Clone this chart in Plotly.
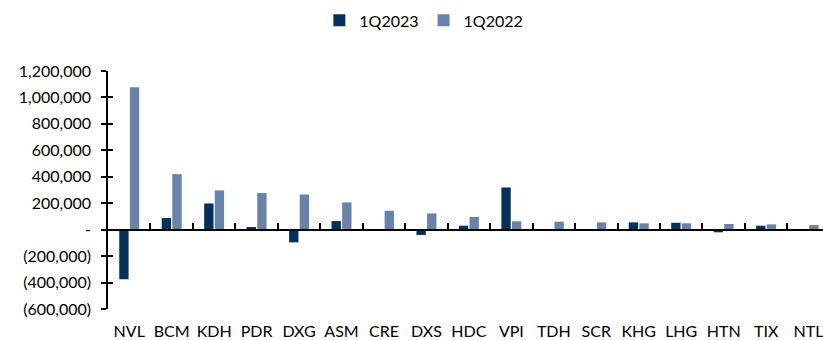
import plotly.graph_objects as go

categories = ["NVL", "BCM", "KDH", "PDR", "DXG", "ASM", "CRE", "DXS", "HDC", "VPI",
              "TDH", "SCR", "KHG", "LHG", "HTN", "TIX", "NTL"]
q1_2023 = [-375000, 88000, 198000, 20000, -96000, 65000, -5000, -40000, 30000, 319000,
           -8000, 0, 55000, 52000, -20000, 30000, 0]
q1_2022 = [1078000, 420000, 297000, 277000, 266000, 206000, 143000, 123000, 96000, 63000,
           60000, 55000, 48000, 48000, 43000, 40000, 35000]

y_tickvals = [1200000, 1000000, 800000, 600000, 400000, 200000, 0, -200000, -400000, -600000]
y_ticktext = ["1,200,000", "1,000,000", "800,000", "600,000", "400,000", "200,000", "-",
              "(200,000)", "(400,000)", "(600,000)"]

DARK = "#04305D"
LIGHT = "#6783A9"
FONT = "Lato"

fig = go.Figure()
fig.add_trace(go.Bar(name="1Q2023", x=categories, y=q1_2023, marker=dict(color=DARK, line=dict(width=0))))
fig.add_trace(go.Bar(name="1Q2022", x=categories, y=q1_2022, marker=dict(color=LIGHT, line=dict(width=0))))
# helper trace so the overlay axes (zero-line axis with boundary ticks, inner y ticks) are drawn
fig.add_trace(go.Scatter(x=categories, y=[None] * len(categories), xaxis="x2", yaxis="y2",
                         showlegend=False, hoverinfo="skip", mode="markers"))

yr = [-600000, 1200000]
xr = [-0.5, 16.34]
zero_pos = (0 - yr[0]) / (yr[1] - yr[0])

fig.update_layout(
    width=823, height=340,
    margin=dict(l=108, r=0, t=71, b=31, autoexpand=False),
    paper_bgcolor="white", plot_bgcolor="white",
    barmode="group", bargap=0.5, bargroupgap=0.12,
    font=dict(family=FONT, size=16, color="#000000"),
    showlegend=True,
    legend=dict(orientation="h", xref="container", yref="container", x=0.515, y=0.94,
                xanchor="center", yanchor="middle", font=dict(size=16, family=FONT),
                itemwidth=30, traceorder="normal", bgcolor="rgba(0,0,0,0)"),
    xaxis=dict(range=xr, categoryorder="array", categoryarray=categories, automargin=False,
               showline=False, showgrid=False, zeroline=False, ticks="", ticklen=0,
               tickfont=dict(size=16, family=FONT), ticklabelstandoff=11, fixedrange=True),
    xaxis2=dict(range=xr, overlaying="x", matches="x", anchor="free", position=zero_pos,
                categoryorder="array", categoryarray=categories, automargin=False,
                showline=True, linecolor="black", linewidth=1.5,
                ticks="inside", tickson="boundaries", ticklen=6, tickwidth=1.5, tickcolor="black",
                showticklabels=False, showgrid=False, zeroline=False),
    yaxis=dict(range=yr, tickvals=y_tickvals, ticktext=y_ticktext, automargin=False,
               showline=True, linecolor="black", linewidth=1.5,
               ticks="outside", ticklen=5, tickwidth=1.5, tickcolor="black",
               showgrid=False, zeroline=False, tickfont=dict(size=16, family=FONT),
               ticklabelstandoff=7),
    yaxis2=dict(range=yr, overlaying="y", matches="y", tickvals=y_tickvals, automargin=False,
                showticklabels=False, ticks="inside", ticklen=5, tickwidth=1.5, tickcolor="black",
                showline=False, showgrid=False, zeroline=False),
)

fig.write_html("out.html")
